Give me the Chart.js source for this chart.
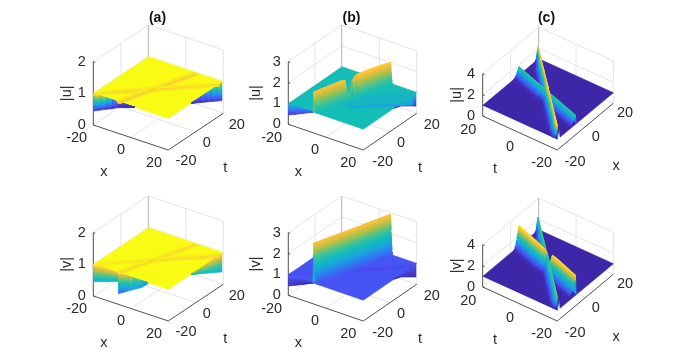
<!DOCTYPE html>
<html>
<head>
<meta charset="utf-8">
<title>Surface panels</title>
<script src="https://cdn.jsdelivr.net/npm/chart.js@4"></script>
<style>
  html, body { margin: 0; background: #fff; }
  body { position: relative; width: 692px; height: 360px; overflow: hidden; }
  .cell { position: absolute; width: 211px; height: 180px; }
  .cell canvas { filter: blur(0.55px); }
</style>
</head>
<body>
<script>
// axis ticks
const xTicks = [-20, 0, 20];
const tTicks = [-20, 0, 20];
const zTicksA = [0, 1, 2];
const zTicksB = [0, 1, 2, 3];
const zTicksC = [0, 2, 4];

// the wave lines on the x-t floor, [x, t] at both ends
const lineA = [[-6.7, -20], [6, 20]];
const lineB = [[-20, -20], [20, 17]];
const lineBc = [[-20, -20], [19.5, 20]];
// where along a line the crest heights below were read
const stations = [0, 0.12, 0.25, 0.35, 0.41, 0.44, 0.47, 0.5, 0.55, 0.7, 0.85, 1];

// crest heights along each line
const crestAuA = [0.93, 0.93, 0.93, 0.93, 0.93, 0.93, 0.93, 0.93, 0.93, 0.93, 0.93, 0.93];
const crestAuB = [0.95, 0.95, 0.94, 0.94, 0.93, 0.93, 0.93, 0.93, 0.94, 0.94, 0.95, 0.95];
const crestAvA = [0.95, 0.95, 0.95, 0.95, 0.94, 0.94, 0.94, 0.94, 0.95, 0.95, 0.95, 0.95];
const crestAvB = [0.97, 0.97, 0.97, 0.96, 0.95, 0.94, 0.94, 0.94, 0.95, 0.95, 0.94, 0.94];
const crestBuA = [1.95, 1.97, 1.98, 2, 1.95, 1.3, 1.05, 1.8, 2.02, 2.05, 2.05, 2];
const crestBuB = [0.97, 0.96, 0.95, 0.93, 0.88, 0.82, 0.7, 0.62, 0.58, 0.55, 0.55, 0.55];
const crestBvA = [2.9, 2.9, 2.9, 2.9, 2.9, 2.9, 2.9, 2.9, 2.9, 2.92, 2.92, 2.92];
const crestBvB = [0.97, 0.97, 0.96, 0.95, 0.94, 0.94, 0.94, 0.94, 0.94, 0.94, 0.94, 0.94];
const crestCuA = [1.8, 1.8, 1.8, 1.8, 1.8, 1.8, 1.8, 1.8, 1.8, 1.8, 1.8, 1.8];
const crestCuB = [2.3, 2.3, 2.3, 2.3, 2.3, 2.3, 2.35, 2.35, 2.3, 2.3, 2.25, 2.2];
const crestCvA = [2.85, 2.85, 2.9, 2.9, 2.85, 2.2, 1.9, 2.6, 2.85, 2.9, 2.95, 2.95];
const crestCvB = [2.3, 2.3, 2.3, 2.3, 2.25, 2.2, 2.2, 2.25, 2.3, 2.3, 2.25, 2.25];

// cross sections of a crest: distance from the line, share of crest height
const dipOffsets = [-1.8, -0.9, 0, 0.9, 1.8];
const dipShares = [0, 0.6, 1, 0.6, 0];
const ridgeShares = [0, 0.7, 1, 0.97, 0.92, 0.86, 0.8, 0.74, 0.68, 0.62, 0.56, 0.5, 0.44, 0.38, 0.32, 0.26, 0.2, 0.14, 0.08, 0.03, 0];
const steepOffsets = [-0.5, -0.2, 0, 0.05, 0.1, 0.15, 0.2, 0.26, 0.32, 0.38, 0.44, 0.5, 0.57, 0.64, 0.72, 0.8, 0.9, 1.02, 1.2, 1.5, 2.2];
const wideOffsets = [-0.5, -0.2, 0, 0.12, 0.25, 0.4, 0.55, 0.7, 0.85, 1, 1.15, 1.3, 1.48, 1.66, 1.85, 2.05, 2.3, 2.6, 3, 3.5, 4.5];
const thinOffsets = [-0.4, -0.15, 0, 0.08, 0.16, 0.25, 0.35, 0.45, 0.55, 0.65, 0.75, 0.85, 0.97, 1.1, 1.25, 1.4, 1.6, 1.85, 2.15, 2.6, 3.3];

// the plane has a small open wedge at the t=-20, x=-20 corner in column c
const planeCutC = [[-13.6, -16.2], [-18, -20]];

// edge drops in the a and b panels: position on the edge, lowest z there, colour index top and bottom
const dropAuFrontX = [-20, -16.8, -13.2, -10, -6.8, -3.2, 2];
const dropAuFrontZ = [0.44, 0.53, 0.63, 0.71, 0.81, 0.88, 0.99];
const dropAuFrontHi = [0.95, 0.88, 0.7, 0.35, 0.12, 0.05, 0.05];
const dropAuFrontLo = [0.03, 0.03, 0.03, 0.03, 0.03, 0.03, 0.03];
const dropAuSideT = [-3.2, 0, 4, 8, 12, 16, 18.8];
const dropAuSideZ = [0.99, 0.905, 0.806, 0.705, 0.605, 0.505, 0.435];
const dropAuSideHi = [0.1, 0.1, 0.18, 0.3, 0.45, 0.65, 0.88];
const dropAuSideLo = [0.03, 0.03, 0.03, 0.03, 0.03, 0.03, 0.03];

const dropAvFrontX = [-20, -16, -12, -8, -7];
const dropAvFrontZ = [0.46, 0.53, 0.61, 0.7, 0.72];
const dropAvFrontHi = [0.95, 0.92, 0.9, 0.87, 0.87];
const dropAvFrontLo = [0.42, 0.42, 0.42, 0.42, 0.42];
const dropAvMidX = [-6.8, -2.8, 1.2, 5.6, 8.8];
const dropAvMidZ = [0.33, 0.47, 0.62, 0.77, 0.95];
const dropAvMidHi = [0.9, 0.85, 0.75, 0.55, 0.3];
const dropAvMidLo = [0.12, 0.25, 0.3, 0.32, 0.3];
const dropAvSideT = [-3.2, 0, 4, 8, 12, 16, 18.8];
const dropAvSideZ = [0.98, 0.9, 0.8, 0.7, 0.6, 0.5, 0.42];
const dropAvSideHi = [0.8, 0.8, 0.82, 0.85, 0.88, 0.9, 0.92];
const dropAvSideLo = [0.52, 0.5, 0.48, 0.46, 0.45, 0.42, 0.4];

const dropBFrontX = [-20, -16, -12, -8, -6.8];
const dropBFrontZ = [0.45, 0.6, 0.77, 0.94, 1];
const dropBuFrontHi = [0.42, 0.38, 0.33, 0.25, 0.2];
const dropBuFrontLo = [0.03, 0.05, 0.08, 0.1, 0.15];
const dropBvFrontHi = [0.13, 0.12, 0.11, 0.1, 0.1];
const dropBvFrontLo = [0.02, 0.02, 0.02, 0.03, 0.04];
const dropBSideT = [3.2, 8, 12, 16, 19.2];
const dropBSideZ = [1, 0.88, 0.7, 0.53, 0.38];
const dropBuSideHi = [0.35, 0.35, 0.38, 0.42, 0.48];
const dropBuSideLo = [0.05, 0.05, 0.04, 0.03, 0.03];
const dropBvSideHi = [0.11, 0.11, 0.11, 0.1, 0.1];
const dropBvSideLo = [0.03, 0.03, 0.02, 0.02, 0.02];

// parula, sampled
const parula = [
  [0, 62, 38, 168], [0.11, 72, 82, 244], [0.24, 42, 128, 240], [0.35, 27, 165, 220],
  [0.5, 19, 190, 183], [0.62, 74, 196, 144], [0.75, 179, 192, 67], [0.87, 253, 191, 60],
  [0.95, 248, 230, 32], [1, 249, 251, 21]
];
function colorAt(v) {
  v = Math.min(1, Math.max(0, v));
  let i = 1;
  while (i < parula.length - 1 && parula[i][0] < v) i++;
  const p = parula[i - 1], q = parula[i], f = (v - p[0]) / (q[0] - p[0]);
  return `rgb(${[1, 2, 3].map(k => Math.round(p[k] + (q[k] - p[k]) * f)).join(",")})`;
}

const bands = [0, 0.1, 0.2, 0.3, 0.4, 0.5, 0.6, 0.7, 0.8, 0.9, 1];

// the three camera set-ups, in canvas pixels
const viewAB = { left: [-20, -20], bottom: [20, -20], right: [20, 20], back: [-20, 20] };
const viewC = { left: [-20, 20], bottom: [-20, -20], right: [20, -20], back: [20, 20] };
const cameraA = { ...viewAB, org: [41.3, 125], xv: [75, 25], tv: [55, -36.7], zu: 31.67, zName: -26.6,
  leftNudge: [[-16.6, 13.3], [-9.8, 12.5], [-14.3, 12.7]], rightNudge: [[17.7, 11], [10.9, 11.7], [13.4, 11.7]],
  leftName: [-27, 34], rightName: [29.5, 36.6], near: 1 };
const cameraB = { ...viewAB, org: [42.3, 124.3], xv: [75, 25.7], tv: [53.4, -36.7], zu: 20.87, zName: -32,
  leftNudge: [[-16.6, 13.3], [-10.8, 12.9], [-15, 12.7]], rightNudge: [[19.4, 11.7], [11, 11.7], [15, 11.7]],
  leftName: [-27.5, 34.6], rightName: [30, 36.6], near: 1 };
const cameraC = { ...viewC, org: [116.3, 150], xv: [56, -46.7], tv: [-74.6, -34], zu: 10.55, zName: -25.4,
  leftNudge: [[-14.4, 14], [-10, 13.7], [-15.6, 13.3]], rightNudge: [[17.7, 11.7], [10.4, 10.7], [11.7, 10]],
  leftName: [-25, 36], rightName: [30.7, 39], near: -1 };

function project(cam, x, t, z) {
  const a = (x + 20) / 40, b = (t + 20) / 40;
  return {
    x: cam.org[0] + a * cam.xv[0] + b * cam.tv[0],
    y: cam.org[1] + a * cam.xv[1] + b * cam.tv[1] - z * cam.zu
  };
}

const panels = [
  { left: 52, top: 0, title: "(a)", name: "|u|", cam: cameraA, zTicks: zTicksA, leftTicks: xTicks, rightTicks: tTicks, leftLabel: "x", rightLabel: "t",
    clim: [0.45, 1], cut: [],
    ribbons: [[lineA, crestAuA, dipOffsets, dipShares], [lineB, crestAuB, dipOffsets, dipShares]],
    drops: [["front", dropAuFrontX, dropAuFrontZ, dropAuFrontHi, dropAuFrontLo], ["side", dropAuSideT, dropAuSideZ, dropAuSideHi, dropAuSideLo]] },
  { left: 246, top: 0, title: "(b)", name: "|u|", cam: cameraB, zTicks: zTicksB, leftTicks: xTicks, rightTicks: tTicks, leftLabel: "x", rightLabel: "t",
    clim: [-0.25, 2.25], cut: [],
    ribbons: [[lineB, crestBuB, dipOffsets, dipShares], [lineA, crestBuA, steepOffsets, ridgeShares]],
    drops: [["front", dropBFrontX, dropBFrontZ, dropBuFrontHi, dropBuFrontLo], ["side", dropBSideT, dropBSideZ, dropBuSideHi, dropBuSideLo]] },
  { left: 441, top: 0, title: "(c)", name: "|u|", cam: cameraC, zTicks: zTicksC, leftTicks: tTicks.slice().reverse(), rightTicks: xTicks, leftLabel: "t", rightLabel: "x",
    clim: [1, 2.35], cut: planeCutC,
    ribbons: [[lineA, crestCuA, wideOffsets, ridgeShares], [lineBc, crestCuB, thinOffsets, ridgeShares]],
    drops: [] },
  { left: 52, top: 171, title: "", name: "|v|", cam: cameraA, zTicks: zTicksA, leftTicks: xTicks, rightTicks: tTicks, leftLabel: "x", rightLabel: "t",
    clim: [0.45, 1], cut: [],
    ribbons: [[lineA, crestAvA, dipOffsets, dipShares], [lineB, crestAvB, dipOffsets, dipShares]],
    drops: [["front", dropAvFrontX, dropAvFrontZ, dropAvFrontHi, dropAvFrontLo], ["front", dropAvMidX, dropAvMidZ, dropAvMidHi, dropAvMidLo], ["side", dropAvSideT, dropAvSideZ, dropAvSideHi, dropAvSideLo]] },
  { left: 246, top: 171, title: "", name: "|v|", cam: cameraB, zTicks: zTicksB, leftTicks: xTicks, rightTicks: tTicks, leftLabel: "x", rightLabel: "t",
    clim: [0.72, 3.17], cut: [],
    ribbons: [[lineB, crestBvB, dipOffsets, dipShares], [lineA, crestBvA, steepOffsets, ridgeShares]],
    drops: [["front", dropBFrontX, dropBFrontZ, dropBvFrontHi, dropBvFrontLo], ["side", dropBSideT, dropBSideZ, dropBvSideHi, dropBvSideLo]] },
  { left: 441, top: 171, title: "", name: "|v|", cam: cameraC, zTicks: zTicksC, leftTicks: tTicks.slice().reverse(), rightTicks: xTicks, leftLabel: "t", rightLabel: "x",
    clim: [1, 2.95], cut: planeCutC,
    ribbons: [[lineBc, crestCvB, thinOffsets, ridgeShares], [lineA, crestCvA, wideOffsets, ridgeShares]],
    drops: [] }
];

const clampBox = v => Math.min(20, Math.max(-20, v));

function shape(pts, color) {
  return { data: pts, showLine: true, fill: "shape", backgroundColor: color, borderColor: color, borderWidth: 0.7, pointRadius: 0, clip: false };
}
function stroke(pts, color, width) {
  return { data: pts, showLine: true, fill: false, borderColor: color, borderWidth: width || 1, pointRadius: 0, clip: false };
}

// box, grid lines and axis lines
function boxSets(p) {
  const c = p.cam, zMax = p.zTicks[p.zTicks.length - 1], out = [];
  const at = (k, z) => project(c, k[0], k[1], z);
  const mid = (m, n) => [(m[0] + n[0]) / 2, (m[1] + n[1]) / 2];
  const grid = "#e4e4e4";
  p.zTicks.slice(1).forEach(z => {
    out.push(stroke([at(c.left, z), at(c.back, z), at(c.right, z)], grid));
  });
  out.push(stroke([at(mid(c.left, c.back), 0), at(mid(c.left, c.back), zMax)], grid));
  out.push(stroke([at(mid(c.back, c.right), 0), at(mid(c.back, c.right), zMax)], grid));
  out.push(stroke([at(mid(c.left, c.back), 0), at(mid(c.bottom, c.right), 0)], grid));
  out.push(stroke([at(mid(c.left, c.bottom), 0), at(mid(c.back, c.right), 0)], grid));
  out.push(stroke([at(c.left, 0), at(c.back, 0), at(c.right, 0)], grid));
  out.push(stroke([at(c.right, 0), at(c.right, zMax)], grid));
  out.push(stroke([at(c.back, 0), at(c.back, zMax)], "#b4b4b4"));
  // axes in front
  const axis = "#505050";
  out.push(stroke([at(c.left, 0), at(c.bottom, 0), at(c.right, 0)], axis));
  out.push(stroke([at(c.left, 0), at(c.left, zMax)], axis));
  p.zTicks.forEach(z => {
    const q = at(c.left, z);
    out.push(stroke([q, { x: q.x + 2, y: q.y + 0.6 }], axis));
  });
  return out;
}

// sloped pieces along a line, returned with their distance on screen for sorting
function ribbonQuads(p, ribbon) {
  const [line, crest, offsets, shares] = ribbon;
  const c = p.cam, [x0, t0] = line[0], [x1, t1] = line[1];
  const len = Math.hypot(x1 - x0, t1 - t0);
  const nx = (t1 - t0) / len * c.near, nt = -(x1 - x0) / len * c.near;
  const node = (i, j) => {
    const s = stations[i], z = 1 + (crest[i] - 1) * shares[j];
    const x = clampBox(x0 + (x1 - x0) * s + nx * offsets[j]);
    const t = clampBox(t0 + (t1 - t0) * s + nt * offsets[j]);
    return { x, t, z };
  };
  const quads = [];
  for (let i = 0; i < stations.length - 1; i++) {
    for (let j = 0; j < offsets.length - 1; j++) {
      const n = [node(i, j), node(i + 1, j), node(i + 1, j + 1), node(i, j + 1)];
      const zMean = n.reduce((sum, m) => sum + m.z, 0) / 4;
      const xMean = n.reduce((sum, m) => sum + m.x, 0) / 4;
      const tMean = n.reduce((sum, m) => sum + m.t, 0) / 4;
      quads.push({
        depth: project(c, xMean, tMean, 0).y,
        set: shape(n.map(m => project(c, m.x, m.t, m.z)), colorAt((zMean - p.clim[0]) / (p.clim[1] - p.clim[0])))
      });
    }
  }
  return quads;
}

// colour-banded drop hanging under the plane edge
function dropSets(p, drop) {
  const [kind, along, low, hi, lo] = drop;
  const c = p.cam, out = [];
  const pos = v => kind === "front" ? [v, -20] : [20, v];
  for (let i = 0; i < along.length - 1; i++) {
    for (let b = 0; b < bands.length - 1; b++) {
      const f = bands[b], g = bands[b + 1];
      const [xa, ta] = pos(along[i]), [xb, tb] = pos(along[i + 1]);
      const za = k => 1 + (low[i] - 1) * k, zb = k => 1 + (low[i + 1] - 1) * k;
      const shade = (hi[i] + hi[i + 1]) / 2 + ((lo[i] + lo[i + 1]) / 2 - (hi[i] + hi[i + 1]) / 2) * (f + g) / 2;
      out.push(shape([
        project(c, xa, ta, za(f)), project(c, xb, tb, zb(f)),
        project(c, xb, tb, zb(g)), project(c, xa, ta, za(g))
      ], colorAt(shade)));
    }
  }
  return out;
}

function panelSets(p) {
  const c = p.cam;
  const outline = [[-20, -20]].concat(p.cut, [[20, -20], [20, 20], [-20, 20]]);
  const plane = shape(outline.map(k => project(c, k[0], k[1], 1)), colorAt((1 - p.clim[0]) / (p.clim[1] - p.clim[0])));
  let sets = boxSets(p).concat([plane]);
  p.drops.forEach(d => { sets = sets.concat(dropSets(p, d)); });
  let quads = [];
  p.ribbons.forEach(r => { quads = quads.concat(ribbonQuads(p, r)); });
  quads.sort((m, n) => m.depth - n.depth);
  sets = sets.concat(quads.map(q => q.set));
  // chart.js paints the first dataset last
  return sets.reverse();
}

// tick and axis names sit next to the projected points
const axisText = {
  id: "axisText",
  afterDraw(chart, args, opts) {
    const p = opts.panel, c = p.cam, ctx = chart.ctx;
    const sx = chart.scales.x, sy = chart.scales.y;
    const zMax = p.zTicks[p.zTicks.length - 1];
    const put = (pt, dx, dy, text) => ctx.fillText(text, sx.getPixelForValue(pt.x) + dx, sy.getPixelForValue(pt.y) + dy);
    const lerp = (m, n, f) => project(c, m[0] + (n[0] - m[0]) * f, m[1] + (n[1] - m[1]) * f, 0);
    ctx.save();
    ctx.fillStyle = "#2a2a2a";
    ctx.font = "14.5px 'Liberation Sans'";
    ctx.textAlign = "center";
    ctx.textBaseline = "middle";
    p.zTicks.forEach(z => put(project(c, c.left[0], c.left[1], z), -11.6, 0, String(z)));
    p.leftTicks.forEach((v, i) => put(lerp(c.left, c.bottom, i / 2), c.leftNudge[i][0], c.leftNudge[i][1], String(v)));
    p.rightTicks.forEach((v, i) => put(lerp(c.bottom, c.right, i / 2), c.rightNudge[i][0], c.rightNudge[i][1], String(v)));
    put(lerp(c.left, c.bottom, 0.5), c.leftName[0], c.leftName[1], p.leftLabel);
    put(lerp(c.bottom, c.right, 0.5), c.rightName[0], c.rightName[1], p.rightLabel);
    const mid = project(c, c.left[0], c.left[1], zMax / 2);
    ctx.translate(sx.getPixelForValue(mid.x) + c.zName, sy.getPixelForValue(mid.y));
    ctx.rotate(-Math.PI / 2);
    ctx.fillText(p.name, 0, 0);
    ctx.restore();
  }
};

panels.forEach(p => {
  const cell = document.createElement("div");
  cell.className = "cell";
  cell.style.left = p.left + "px";
  cell.style.top = p.top + "px";
  const canvas = document.createElement("canvas");
  cell.appendChild(canvas);
  document.body.appendChild(cell);
  new Chart(canvas.getContext("2d"), {
    type: "scatter",
    data: { datasets: panelSets(p) },
    plugins: [axisText],
    options: {
      responsive: true,
      maintainAspectRatio: false,
      animation: false,
      events: [],
      layout: { padding: { top: p.title ? 0 : 25 } },
      plugins: {
        legend: { display: false },
        tooltip: { enabled: false },
        title: {
          display: !!p.title,
          text: p.title,
          color: "#111",
          font: { family: "'Liberation Sans'", size: 14, weight: "bold", lineHeight: 1 },
          padding: { top: 11, bottom: 0 }
        },
        axisText: { panel: p }
      },
      scales: {
        x: { type: "linear", display: false, min: 0, max: 211 },
        y: { type: "linear", display: false, reverse: true, min: 25, max: 180 }
      }
    }
  });
});
</script>
</body>
</html>
